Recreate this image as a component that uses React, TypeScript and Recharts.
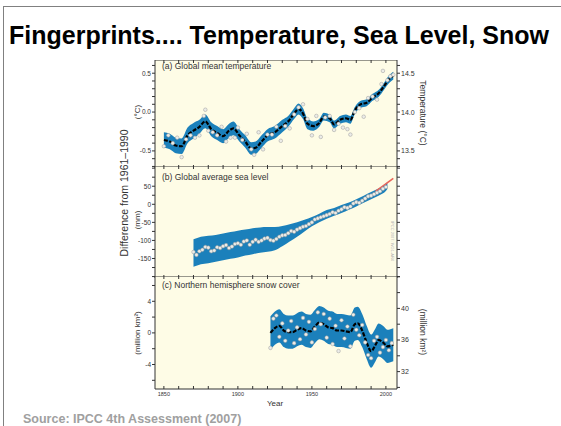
import React from 'react';
import { ComposedChart, Area, Line, Scatter, XAxis, YAxis, CartesianGrid } from 'recharts';

// ---------- shared x axis ----------
const yearDomain = [1844, 2007.5];
const yearTicks = [1850, 1860, 1870, 1880, 1890, 1900, 1910, 1920, 1930, 1940, 1950, 1960, 1970, 1980, 1990, 2000];
const yearLabelTicks = [1850, 1900, 1950, 2000];

// ---------- (a) global mean temperature (°C, anomaly) ----------
const tempYears = [1850, 1854, 1858, 1862, 1866, 1870, 1874, 1878, 1882, 1886, 1890, 1894, 1897, 1901, 1905, 1909, 1912, 1916, 1920, 1925, 1930, 1934, 1938, 1941, 1944, 1947, 1951, 1955, 1958, 1962, 1965, 1969, 1973, 1976, 1979, 1983, 1987, 1991, 1995, 1999, 2002, 2005];
const tempSmooth = [-0.36, -0.38, -0.43, -0.44, -0.30, -0.24, -0.19, -0.12, -0.22, -0.27, -0.31, -0.24, -0.21, -0.30, -0.38, -0.47, -0.46, -0.38, -0.30, -0.26, -0.18, -0.12, -0.02, 0.04, -0.02, -0.15, -0.18, -0.14, -0.06, -0.08, -0.16, -0.10, -0.08, -0.10, 0.02, 0.10, 0.12, 0.19, 0.24, 0.34, 0.42, 0.47];
const tempSpread = [0.10, 0.10, 0.10, 0.10, 0.10, 0.10, 0.09, 0.09, 0.09, 0.09, 0.09, 0.09, 0.09, 0.08, 0.08, 0.08, 0.08, 0.08, 0.08, 0.08, 0.08, 0.07, 0.07, 0.07, 0.07, 0.07, 0.06, 0.05, 0.05, 0.05, 0.05, 0.05, 0.05, 0.05, 0.045, 0.045, 0.045, 0.045, 0.045, 0.045, 0.05, 0.05];
const tempDotYears = [1850, 1853, 1856, 1859, 1862, 1865, 1868, 1871, 1874, 1877, 1878, 1880, 1883, 1886, 1889, 1892, 1895, 1898, 1900, 1903, 1906, 1909, 1911, 1914, 1917, 1920, 1923, 1926, 1929, 1932, 1935, 1938, 1941, 1944, 1947, 1950, 1953, 1956, 1959, 1962, 1965, 1968, 1971, 1974, 1976, 1979, 1982, 1985, 1988, 1991, 1994, 1997, 1998, 2001, 2003, 2005];
const tempDotValues = [-0.44, -0.30, -0.40, -0.33, -0.58, -0.35, -0.30, -0.33, -0.30, -0.05, 0.03, -0.24, -0.26, -0.30, -0.19, -0.38, -0.33, -0.33, -0.20, -0.36, -0.28, -0.48, -0.55, -0.26, -0.48, -0.29, -0.29, -0.19, -0.37, -0.18, -0.21, -0.03, 0.06, 0.10, -0.09, -0.30, -0.05, -0.32, -0.07, -0.05, -0.23, -0.15, -0.20, -0.22, -0.29, 0.00, 0.05, -0.06, 0.18, 0.20, 0.16, 0.36, 0.53, 0.41, 0.46, 0.48];
const tempLeftTicks = [-0.7, -0.6, -0.5, -0.4, -0.3, -0.2, -0.1, 0, 0.1, 0.2, 0.3, 0.4, 0.5, 0.6];
const tempLeftLabels = [-0.5, 0, 0.5];
const tempRightTicks = [13.3, 13.4, 13.5, 13.6, 13.7, 13.8, 13.9, 14.0, 14.1, 14.2, 14.3, 14.4, 14.5, 14.6];
const tempRightLabels = [13.5, 14.0, 14.5];

// ---------- (b) global average sea level (mm) ----------
const seaYears = [1870, 1875, 1880, 1885, 1890, 1895, 1900, 1905, 1910, 1915, 1920, 1925, 1930, 1935, 1940, 1945, 1950, 1955, 1960, 1965, 1970, 1975, 1980, 1985, 1990, 1995, 2000, 2001];
const seaSmooth = [-135, -128, -125, -122, -118, -114, -110, -106, -102, -99, -97, -95, -88, -79, -70, -59, -48, -38, -28, -21, -13, -5, 4, 14, 24, 34, 47, 52];
const seaSpread = [38, 38, 38, 37, 37, 37, 37, 36, 36, 35, 34, 32, 28, 24, 20, 16, 13, 12, 12, 11, 11, 10, 10, 10, 10, 10, 10, 10];
const seaDotYears = [1870, 1872, 1874, 1876, 1878, 1880, 1882, 1884, 1886, 1888, 1890, 1892, 1894, 1896, 1898, 1900, 1902, 1904, 1906, 1908, 1910, 1912, 1914, 1916, 1918, 1920, 1922, 1924, 1926, 1928, 1930, 1932, 1934, 1936, 1938, 1940, 1942, 1944, 1946, 1948, 1950, 1952, 1954, 1956, 1958, 1960, 1962, 1964, 1966, 1968, 1970, 1972, 1974, 1976, 1978, 1980, 1982, 1984, 1986, 1988, 1990, 1992, 1994, 1996, 1998, 2000];
const seaDotValues = [-132, -140, -130, -126, -118, -120, -130, -128, -119, -121, -116, -113, -121, -117, -110, -108, -112, -103, -100, -112, -104, -98, -104, -100, -95, -93, -99, -101, -96, -90, -86, -85, -80, -74, -76, -70, -66, -62, -60, -55, -50, -42, -39, -36, -33, -30, -27, -22, -24, -18, -14, -8, -10, -6, 2, 6, 4, 10, 16, 22, 24, 28, 32, 36, 43, 48];
const seaSatYears = [1993, 2005];
const seaSatValues = [36, 72];
const seaTicks = [-200, -175, -150, -125, -100, -75, -50, -25, 0, 25, 50, 75, 100];
const seaLabels = [-150, -100, -50, 0, 50];

// ---------- (c) northern hemisphere snow cover (million km²) ----------
const snowYears = [1922, 1925, 1928, 1931, 1934, 1937, 1940, 1943, 1946, 1949, 1952, 1955, 1958, 1961, 1964, 1967, 1970, 1973, 1976, 1979, 1981, 1984, 1987, 1990, 1993, 1995, 1998, 2001, 2005];
const snowSmooth = [0.0, 0.6, 0.9, 0.3, 0.1, 0.1, 0.4, 0.6, 0.3, 0.2, 0.8, 1.3, 1.1, 0.7, 0.6, 0.3, 0.3, 0.2, 0.1, 1.1, 1.2, 0.3, -1.2, -2.3, -1.5, -0.9, -1.2, -1.7, -1.5];
const snowSpread = [2.1, 2.1, 2.1, 2.1, 2.1, 2.1, 2.1, 2.1, 2.1, 2.1, 2.1, 2.1, 2.1, 2.1, 2.1, 2.1, 2.1, 2.1, 2.1, 2.1, 2.1, 2.1, 2.1, 2.1, 2.1, 2.1, 2.1, 2.1, 2.1];
const snowDotYears = [1922, 1924, 1926, 1928, 1930, 1932, 1934, 1936, 1938, 1940, 1942, 1944, 1946, 1948, 1950, 1952, 1954, 1956, 1958, 1960, 1962, 1964, 1966, 1968, 1970, 1972, 1974, 1976, 1978, 1980, 1982, 1984, 1986, 1988, 1990, 1992, 1994, 1996, 1998, 2000, 2002, 2004];
const snowDotValues = [-1.9, 1.8, 2.2, -0.5, 1.2, -1.0, 0.3, 1.5, -1.3, 0.7, -0.8, 1.9, -0.2, 1.4, -1.2, 0.5, 2.6, 1.1, 2.4, -0.6, 1.8, -1.4, 0.9, -2.3, 1.6, -0.7, 0.8, -1.7, 2.3, 0.4, -0.3, 1.0, -1.2, -2.8, -3.2, -1.0, -0.5, -2.5, -1.8, -0.9, -2.2, -1.3];
const snowLeftTicks = [-6, -4, -2, 0, 2, 4, 6];
const snowLeftLabels = [-4, 0, 4];
const snowRightTicks = [30, 32, 34, 36, 38, 40, 42, 44];
const snowRightLabels = [32, 36, 40];

// ---------- styling ----------
const BG = '#fefce6';
const BAND = '#1b80bb';
const FRAME = '#333';
const TXT = '#333';
const CH_LEFT = 95;
const CH_W = 347;
const AX_L = 60;
const AX_R = 45;
const F = 'Liberation Sans, Arial, sans-serif';

const bandRows = (years: number[], smooth: number[], spread: number[]) =>
  years.map((y, i) => ({
    year: y,
    smooth: smooth[i],
    range: [smooth[i] - spread[i], smooth[i] + spread[i]],
  }));
const dotRows = (years: number[], vals: number[]) => years.map((y, i) => ({ year: y, v: vals[i] }));

const dotShape = (fill: string, stroke: string, r: number) => (p: any) =>
  p.cx == null ? <g /> : <circle cx={p.cx} cy={p.cy} r={r} fill={fill} stroke={stroke} strokeWidth={0.5} />;

const fmtFrom = (labels: number[], digits: number) => (v: number) =>
  labels.some((l) => Math.abs(l - v) < 1e-9) ? v.toFixed(digits) : '';

type PanelProps = {
  top: number;
  plotHeight: number;
  extraBottom: number;
  rows: any[];
  dots: any[];
  yDomain: number[];
  yTicks: number[];
  yFmt: (v: number) => string;
  rDomain: number[];
  rTicks: number[];
  rFmt: (v: number) => string;
  showYears?: boolean;
  sat?: any[];
  showSmooth?: boolean;
};

// every x axis is 1px tall: plot starts 1px below the chart top
function Panel(p: PanelProps) {
  const axesH = 2 + (p.showYears ? 1 : 0);
  const h = p.plotHeight + axesH + p.extraBottom;
  return (
    <div style={{ position: 'absolute', left: CH_LEFT, top: p.top - 1, width: CH_W, height: h }}>
      <ComposedChart width={CH_W} height={h} data={p.rows} margin={{ top: 0, right: 0, bottom: p.extraBottom, left: 0 }}>
        <CartesianGrid fill={BG} horizontal={false} vertical={false} stroke="none" />
        <XAxis xAxisId={0} dataKey="year" type="number" domain={yearDomain} allowDataOverflow ticks={yearTicks} interval={0}
          height={1} mirror tickSize={3} tickFormatter={() => ''} axisLine={{ stroke: FRAME, strokeWidth: 1 }} tickLine={{ stroke: FRAME }} />
        {p.showYears && (
          <XAxis xAxisId="lab" dataKey="year" type="number" domain={yearDomain} allowDataOverflow ticks={yearLabelTicks} interval={0}
            height={1} tickSize={2} tickMargin={1} axisLine={false} tickLine={false} tick={{ fontSize: 5.5, fill: TXT, fontFamily: F }} />
        )}
        <XAxis xAxisId="top" orientation="top" dataKey="year" type="number" domain={yearDomain} allowDataOverflow ticks={yearTicks} interval={0}
          height={1} mirror tickSize={3} tickFormatter={() => ''} axisLine={{ stroke: FRAME, strokeWidth: 1 }} tickLine={{ stroke: FRAME }} />
        <YAxis yAxisId={0} type="number" domain={p.yDomain} allowDataOverflow ticks={p.yTicks} interval={0} width={AX_L}
          tickSize={3} tickMargin={1} tickFormatter={p.yFmt} axisLine={{ stroke: FRAME }} tickLine={{ stroke: FRAME }}
          tick={{ fontSize: 6.5, fill: TXT, fontFamily: F }} />
        <YAxis yAxisId="r" orientation="right" type="number" domain={p.rDomain} allowDataOverflow ticks={p.rTicks} interval={0} width={AX_R}
          tickSize={3} tickMargin={1} tickFormatter={p.rFmt} axisLine={{ stroke: FRAME }} tickLine={{ stroke: FRAME }}
          tick={{ fontSize: 7, fill: TXT, fontFamily: F }} />
        <Area dataKey="range" type="monotone" stroke="none" fill={BAND} fillOpacity={1} isAnimationActive={false} dot={false} activeDot={false} />
        <Scatter data={p.dots} dataKey="v" shape={dotShape('#ecece8', '#9a9a9a', 1.8)} isAnimationActive={false} />
        {p.sat && (
          <Line data={p.sat} dataKey="v" type="linear" stroke="#e8645a" strokeWidth={1.6} dot={false} activeDot={false} isAnimationActive={false} />
        )}
        {p.showSmooth !== false && (
          <Line dataKey="smooth" type="monotone" stroke="#000" strokeWidth={2.2} strokeDasharray="4 1.5" dot={false} activeDot={false} isAnimationActive={false} />
        )}
      </ComposedChart>
    </div>
  );
}

export default function App() {
  const tempRows = bandRows(tempYears, tempSmooth, tempSpread);
  const seaRows = bandRows(seaYears, seaSmooth, seaSpread);
  const snowRows = bandRows(snowYears, snowSmooth, snowSpread);
  return (
    <div style={{ position: 'absolute', left: 0, top: 0, width: 561, height: 426, overflow: 'hidden', background: '#fff', fontFamily: F }}>
      <div style={{ position: 'absolute', left: 3, top: 6, width: 700, height: 600, borderLeft: '1.5px solid #808080', borderTop: '1.5px solid #808080' }} />
      <Panel top={61} plotHeight={106} extraBottom={0} rows={tempRows} dots={dotRows(tempDotYears, tempDotValues)}
        yDomain={[-0.72, 0.67]} yTicks={tempLeftTicks} yFmt={fmtFrom(tempLeftLabels, 1)}
        rDomain={[13.28, 14.67]} rTicks={tempRightTicks} rFmt={fmtFrom(tempRightLabels, 1)} />
      <Panel top={167} plotHeight={110} extraBottom={0} rows={seaRows} dots={dotRows(seaDotYears, seaDotValues)}
        yDomain={[-204, 106]} yTicks={seaTicks} yFmt={fmtFrom(seaLabels, 0)}
        rDomain={[-204, 106]} rTicks={seaTicks} rFmt={() => ''} sat={dotRows(seaSatYears, seaSatValues)} showSmooth={false} />
      <Panel top={277} plotHeight={111} extraBottom={10} rows={snowRows} dots={dotRows(snowDotYears, snowDotValues)}
        yDomain={[-7.1, 7.2]} yTicks={snowLeftTicks} yFmt={fmtFrom(snowLeftLabels, 0)}
        rDomain={[29.8, 44.1]} rTicks={snowRightTicks} rFmt={fmtFrom(snowRightLabels, 0)} showYears />
      <svg width={561} height={426} style={{ position: 'absolute', left: 0, top: 0, pointerEvents: 'none' }}>
        <text x={9} y={44} fontSize={25} fontWeight="bold" fill="#000" fontFamily={F}>Fingerprints.... Temperature, Sea Level, Snow</text>
        <text x={23} y={423} fontSize={12.5} fontWeight="bold" fill="#a0a0a0" fontFamily={F}>Source: IPCC 4th Assessment (2007)</text>
        <text x={162} y={69} fontSize={8.5} fill={TXT} fontFamily={F}>(a) Global mean temperature</text>
        <text x={162} y={180} fontSize={8.5} fill={TXT} fontFamily={F}>(b) Global average sea level</text>
        <text x={162} y={288} fontSize={8.5} fill={TXT} fontFamily={F}>(c) Northern hemisphere snow cover</text>
        <text x={124} y={193} fontSize={10.5} fill={TXT} fontFamily={F} textAnchor="middle" dominantBaseline="central" transform="rotate(-90 124 193)">Difference from 1961–1990</text>
        <text x={137} y={112} fontSize={8} fill={TXT} fontFamily={F} textAnchor="middle" dominantBaseline="central" transform="rotate(-90 137 112)">(°C)</text>
        <text x={137} y={220} fontSize={8} fill={TXT} fontFamily={F} textAnchor="middle" dominantBaseline="central" transform="rotate(-90 137 220)">(mm)</text>
        <text x={137} y={333} fontSize={8} fill={TXT} fontFamily={F} textAnchor="middle" dominantBaseline="central" transform="rotate(-90 137 333)">(million km²)</text>
        <text x={423} y={113} fontSize={8.5} fill={TXT} fontFamily={F} textAnchor="middle" dominantBaseline="central" transform="rotate(90 423 113)">Temperature (°C)</text>
        <text x={423} y={332} fontSize={8.5} fill={TXT} fontFamily={F} textAnchor="middle" dominantBaseline="central" transform="rotate(90 423 332)">(million km²)</text>
        <text x={392} y={241} fontSize={4} fill="#b0b0b0" fontFamily={F} textAnchor="middle" dominantBaseline="central" transform="rotate(90 392 241)">IPCC 2007: WG1-AR4</text>
        <text x={275} y={406} fontSize={8} fill={TXT} fontFamily={F} textAnchor="middle">Year</text>
      </svg>
    </div>
  );
}
